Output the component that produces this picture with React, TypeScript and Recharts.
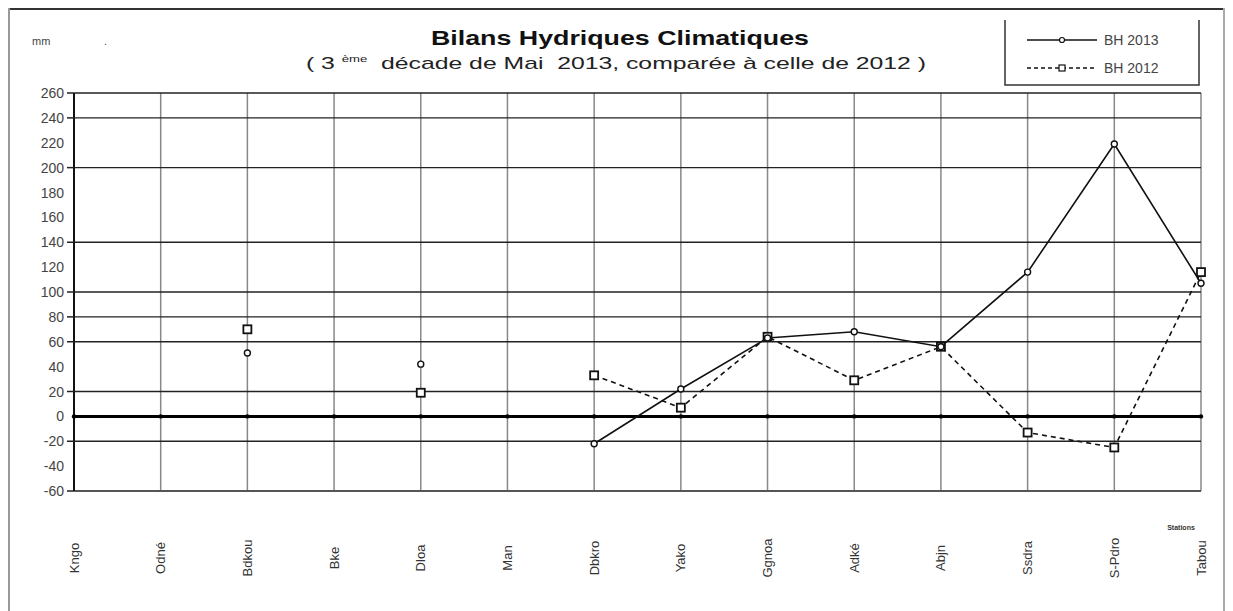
import { LineChart, Line, XAxis, YAxis, CartesianGrid, ReferenceLine, ReferenceDot } from 'recharts';

const stations = ['Kngo', 'Odné', 'Bdkou', 'Bke', 'Dloa', 'Man', 'Dbkro', 'Yako', 'Ggnoa', 'Adké', 'Abjn', 'Ssdra', 'S-Pdro', 'Tabou'];
const bh2013 = [null, null, 51, null, 42, null, -22, 22, 63, 68, 56, 116, 219, 107];
const bh2012 = [null, null, 70, null, 19, null, 33, 7, 64, 29, 56, -13, -25, 116];
const yTicks = [-60, -40, -20, 0, 20, 40, 60, 80, 100, 120, 140, 160, 180, 200, 220, 240, 260];
const gridLevels = [260, 240, 200, 140, 100, 80, 60, 20, -20, -60];

const FONT = '"Liberation Sans", Arial, sans-serif';

const data = stations.map((name, i) => ({ name, bh2013: bh2013[i], bh2012: bh2012[i] }));

function CircleDot(props: any) {
  const { cx, cy, value, index } = props;
  if (value == null || cy == null) return <g key={'c' + index} />;
  return <circle key={'c' + index} cx={cx} cy={cy} r={3} fill="#fff" stroke="#111" strokeWidth={1.4} />;
}

function SquareDot(props: any) {
  const { cx, cy, value, index } = props;
  if (value == null || cy == null) return <g key={'s' + index} />;
  return <rect key={'s' + index} x={cx - 4} y={cy - 4} width={8} height={8} fill="#fff" stroke="#111" strokeWidth={1.8} />;
}

function YTick(props: any) {
  const { y, payload } = props;
  const v = payload.value;
  return (
    <g>
      {gridLevels.includes(v) && <line x1={59} x2={66} y1={y} y2={y} stroke="#222" strokeWidth={1.5} />}
      <text x={56} y={y} dy={5} textAnchor="end" fontSize={14} fontFamily={FONT} fill="#444">
        {v}
      </text>
    </g>
  );
}

function XTick(props: any) {
  const { x, payload } = props;
  const cy = 550;
  return (
    <text
      x={x}
      y={cy}
      dy={4.5}
      textAnchor="middle"
      fontSize={13}
      fontFamily={FONT}
      fill="#333"
      transform={`rotate(-90, ${x}, ${cy})`}
    >
      {payload.value}
    </text>
  );
}

export default function App() {
  return (
    <div style={{ position: 'relative', width: 1217, height: 603, fontFamily: FONT }}>
      <LineChart
        width={1217}
        height={598}
        data={data}
        margin={{ top: 85, right: 24, bottom: 15, left: 0 }}
        style={{ position: 'absolute', left: 0, top: 0 }}
      >
        <CartesianGrid horizontal={false} stroke="#888" strokeWidth={1.5} />
        <CartesianGrid vertical={false} horizontalValues={gridLevels} stroke="#222" strokeWidth={1.3} />
        <XAxis
          dataKey="name"
          interval={0}
          height={100}
          tickLine={false}
          axisLine={{ stroke: '#555', strokeWidth: 2 }}
          tick={<XTick />}
        />
        <YAxis
          width={66}
          domain={[-60, 260]}
          ticks={yTicks}
          interval={0}
          tickLine={false}
          axisLine={{ stroke: '#111', strokeWidth: 2 }}
          tick={<YTick />}
        />
        <ReferenceLine y={0} stroke="#000" strokeWidth={3} />
        {stations.map((s) => (
          <ReferenceDot key={s} x={s} y={0} r={2.2} fill="#000" stroke="none" />
        ))}
        <Line
          dataKey="bh2012"
          type="linear"
          stroke="#111"
          strokeWidth={1.6}
          strokeDasharray="5 4"
          dot={<SquareDot />}
          activeDot={false}
          connectNulls={false}
          isAnimationActive={false}
        />
        <Line
          dataKey="bh2013"
          type="linear"
          stroke="#111"
          strokeWidth={1.6}
          dot={<CircleDot />}
          activeDot={false}
          connectNulls={false}
          isAnimationActive={false}
        />
      </LineChart>

      {/* frame, titles and legend */}
      <svg width={1217} height={603} style={{ position: 'absolute', left: 0, top: 0, pointerEvents: 'none' }}>
        <line x1={0} y1={1} x2={1217} y2={1} stroke="#333" strokeWidth={2} />
        <line x1={1} y1={0} x2={1} y2={603} stroke="#999" strokeWidth={2} />
        <line x1={1216} y1={0} x2={1216} y2={603} stroke="#aaa" strokeWidth={2} />

        <text x={24} y={37} fontSize={11} fontFamily={FONT} fill="#444">mm</text>
        <text x={96} y={37} fontSize={11} fontFamily={FONT} fill="#444">.</text>

        <text
          x={612}
          y={37}
          textAnchor="middle"
          fontSize={21}
          fontWeight="bold"
          fontFamily={FONT}
          fill="#111"
          textLength={378}
          lengthAdjust="spacingAndGlyphs"
        >
          Bilans Hydriques Climatiques
        </text>
        <text
          x={608}
          y={61}
          textAnchor="middle"
          fontSize={17}
          fontFamily={FONT}
          fill="#222"
          textLength={620}
          lengthAdjust="spacingAndGlyphs"
          style={{ whiteSpace: 'pre' }}
        >
          {'( 3 '}
          <tspan fontSize={9} dy={-7}>ème</tspan>
          <tspan dy={7}>{'  décade de Mai  2013, comparée à celle de 2012 )'}</tspan>
        </text>

        <text x={1173} y={522} textAnchor="middle" fontSize={7} fontWeight="bold" fontFamily={FONT} fill="#333">
          Stations
        </text>

        <path d="M997,12 L997,77 L1191,77 L1191,12" fill="none" stroke="#333" strokeWidth={1.5} />
        <line x1={1019} x2={1089} y1={32} y2={32} stroke="#111" strokeWidth={1.5} />
        <circle cx={1054} cy={32} r={2.5} fill="#fff" stroke="#111" strokeWidth={1.2} />
        <text x={1096} y={37} fontSize={14} fontFamily={FONT} fill="#444">BH 2013</text>
        <line x1={1019} x2={1089} y1={60} y2={60} stroke="#111" strokeWidth={1.5} strokeDasharray="4 3" />
        <rect x={1051} y={57} width={6} height={6} fill="#fff" stroke="#111" strokeWidth={1.2} />
        <text x={1096} y={65} fontSize={14} fontFamily={FONT} fill="#444">BH 2012</text>
      </svg>
    </div>
  );
}
